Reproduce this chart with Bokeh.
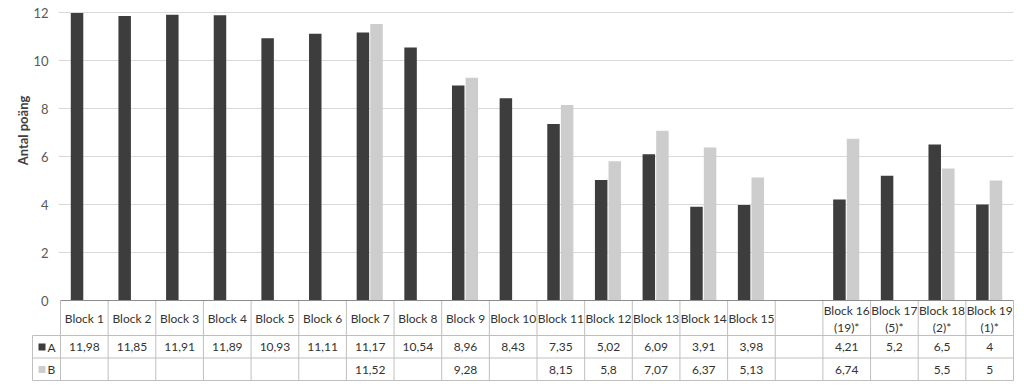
import math
from bokeh.plotting import figure
from bokeh.models import Range1d
from bokeh.core.properties import value
from bokeh.embed import file_html
from bokeh.resources import INLINE

# ---------------- data ----------------
blocks = ["Block 1", "Block 2", "Block 3", "Block 4", "Block 5", "Block 6", "Block 7",
          "Block 8", "Block 9", "Block 10", "Block 11", "Block 12", "Block 13", "Block 14",
          "Block 15", "", "Block 16\n(19)*", "Block 17\n(5)*", "Block 18\n(2)*", "Block 19\n(1)*"]
series_a = [11.98, 11.85, 11.91, 11.89, 10.93, 11.11, 11.17, 10.54, 8.96, 8.43, 7.35, 5.02,
            6.09, 3.91, 3.98, None, 4.21, 5.2, 6.5, 4]
series_b = [None, None, None, None, None, None, 11.52, None, 9.28, None, 8.15, 5.8,
            7.07, 6.37, 5.13, None, 6.74, None, 5.5, 5]
series_names = ["A", "B"]
y_ticks = [0, 2, 4, 6, 8, 10, 12]
y_label = "Antal poäng"

COL_A = "#3d3d3d"
COL_B = "#cdcdcd"
FONT = value("Lato")

# ---------------- layout helpers (pixel -> data) ----------------
W_PX = 1020
H_PX = 384
COL0 = 60.0          # left edge of first table column (page px)
COLW = (1013.0 - 60.0) / 20
ZERO = 300.0         # page y of value 0
UNIT = 24.0          # px per value unit


def xd(px):
    return (px - COL0) / COLW


def yd(py):
    return (ZERO - py) / UNIT


p = figure(width=W_PX, height=H_PX, output_backend="svg", toolbar_location=None, tools="",
           x_range=Range1d(xd(0), xd(W_PX)), y_range=Range1d(yd(H_PX), yd(0)),
           x_axis_location=None, y_axis_location=None,
           min_border_left=0, min_border_right=0, min_border_top=0, min_border_bottom=0)
p.grid.visible = False
p.outline_line_color = None
p.background_fill_color = "white"

n = len(blocks)
centers = [i + 0.5 for i in range(n)]

# gridlines
gl = [t for t in y_ticks if t != 0]
p.segment(x0=[xd(58)] * len(gl), x1=[n] * len(gl), y0=gl, y1=gl, line_color="#d9d9d9", line_width=1)

# bars
bw = 12.5 / COLW
off_a = -7.3 / COLW
off_b = 6.3 / COLW
xa = [c + off_a for c, v in zip(centers, series_a) if v is not None]
ta = [v for v in series_a if v is not None]
xb = [c + off_b for c, v in zip(centers, series_b) if v is not None]
tb = [v for v in series_b if v is not None]
p.vbar(x=xa, top=ta, bottom=0, width=bw, fill_color=COL_A, line_color=None)
p.vbar(x=xb, top=tb, bottom=0, width=bw, fill_color=COL_B, line_color=None)

# y tick labels
p.text(x=[xd(48)] * len(y_ticks), y=y_ticks, text=[str(t) for t in y_ticks], text_align="right",
       text_baseline="middle", text_font=FONT, text_font_size="13px", text_color="#595959")

# axis title
p.text(x=[xd(22)], y=[yd(130)], text=[y_label], angle=math.pi / 2, text_align="center",
       text_baseline="middle", text_font=FONT, text_font_size="13px", text_font_style="bold",
       text_color="#404040")

# ---------------- data table ----------------
TBL = "#bfbfbf"
y_hdr = yd(335)
y_ra = yd(357.5)
y_rb = yd(380)
# vertical column lines
p.segment(x0=list(range(n + 1)), x1=list(range(n + 1)), y0=[0] * (n + 1), y1=[y_rb] * (n + 1),
          line_color=TBL, line_width=1)
# legend column left edge
p.segment(x0=[xd(32)], x1=[xd(32)], y0=[y_hdr], y1=[y_rb], line_color=TBL, line_width=1)
# horizontal row lines
p.segment(x0=[xd(32)] * 3, x1=[n] * 3, y0=[y_hdr, y_ra, y_rb], y1=[y_hdr, y_ra, y_rb],
          line_color=TBL, line_width=1)
# zero / axis line
p.segment(x0=[0], x1=[n], y0=[0], y1=[0], line_color="#8c8c8c", line_width=1)

# header texts
hx1, hy1, ht1 = [], [], []
for c, lab in zip(centers, blocks):
    if not lab:
        continue
    parts = lab.split("\n")
    if len(parts) == 1:
        hx1.append(c); hy1.append(yd(318)); ht1.append(parts[0])
    else:
        hx1.append(c); hy1.append(yd(310)); ht1.append(parts[0])
        hx1.append(c); hy1.append(yd(327)); ht1.append(parts[1])
p.text(x=hx1, y=hy1, text=ht1, text_align="center", text_baseline="middle", text_font=FONT,
       text_font_size="12px", text_color="#333333")


def fmt(v):
    if float(v) == int(v):
        return str(int(v))
    return repr(float(v)).replace(".", ",")


for vals, ypix in ((series_a, 346.5), (series_b, 369)):
    xs = [c for c, v in zip(centers, vals) if v is not None]
    ts = [fmt(v) for v in vals if v is not None]
    p.text(x=xs, y=[yd(ypix)] * len(xs), text=ts, text_align="center", text_baseline="middle",
           text_font=FONT, text_font_size="12px", text_color="#333333")

# legend keys in table
p.scatter(x=[xd(41.5)] * 2, y=[yd(346.5), yd(369)], marker="square", size=7,
          fill_color=[COL_A, COL_B], line_color=None)
p.text(x=[xd(47)] * 2, y=[yd(346.5), yd(369)], text=series_names, text_align="left",
       text_baseline="middle", text_font=FONT, text_font_size="12px", text_color="#333333")

open("out.html", "w").write(file_html(p, INLINE))
